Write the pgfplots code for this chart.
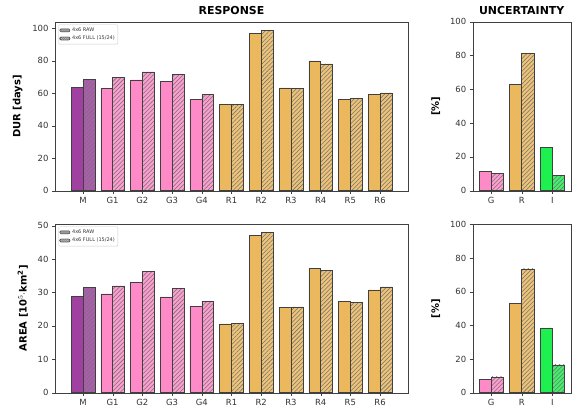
\documentclass[border=0pt]{standalone}
\usepackage{fontspec}
\setmainfont{DejaVu Sans}
\usepackage{pgfplots}
\pgfplotsset{compat=1.18}
\usetikzlibrary{patterns.meta}

\definecolor{mpurple}{RGB}{160,64,160}
\definecolor{gpink}{RGB}{255,138,200}
\definecolor{rorange}{RGB}{235,184,94}
\definecolor{igreen}{RGB}{30,240,80}

\pgfplotsset{
  raw/.style={fill=#1, draw=black!75, line width=0.5pt, bar width=0.4, bar shift=-0.2, forget plot},
  full/.style={fill=#1!85!white, draw=black!75, line width=0.5pt, bar width=0.4, bar shift=0.2, forget plot,
     postaction={pattern={Lines[angle=45,distance=3bp,line width=0.55bp]}, pattern color=black!55}},
  base/.style={
    scale only axis, ybar, ymin=0,
    axis line style={black!75}, tick style={black!75},
    tick align=outside, major tick length=3bp,
    xtick pos=bottom, ytick pos=left,
    tick label style={font=\fontsize{8.5}{10}\selectfont, text=black!80},
    /pgf/number format/assume math mode=true,
    ylabel style={font=\bfseries\fontsize{10}{12}\selectfont, yshift=3bp},
    title style={font=\bfseries\fontsize{11}{13}\selectfont, yshift=-2bp},
    xtick=data, anchor=south west,
  },
  left/.style={base, width=353bp, height=168.7bp, xmin=-0.94, xmax=10.94,
    xticklabels={M,G1,G2,G3,G4,R1,R2,R3,R4,R5,R6},
    legend style={at={(0.01,0.985)}, anchor=north west, font=\fontsize{5}{6}\selectfont,
      draw=black!20, rounded corners=1pt, inner sep=1pt, row sep=-1pt, text=black!80},
    legend cell align=left,
    legend image code/.code={\draw[#1] (0bp,-1.5bp) rectangle (10bp,1.5bp);},
  },
  right/.style={base, width=98bp, height=169bp, xmin=-0.6, xmax=2.6, ymax=100,
    xticklabels={G,R,I}, ytick={0,20,40,60,80,100}, ylabel={[\%]}},
}

\begin{document}
\begin{tikzpicture}
\useasboundingbox (0bp,0bp) rectangle (583bp,-415bp);

% ---------- DUR ----------
\begin{axis}[left, at={(55bp,-190.7bp)}, ymax=103.8, ytick={0,20,40,60,80,100},
  ylabel={DUR [days]}, title={RESPONSE}]
\addlegendimage{fill=gray!80, draw=black!75, line width=0.4pt}
\addlegendentry{4x6 RAW}
\addlegendimage{fill=gray!50, draw=black!75, line width=0.4pt, postaction={pattern={Lines[angle=45,distance=1.5bp,line width=0.3bp]}, pattern color=black!60}}
\addlegendentry{4x6 FULL (15/24)}
\addplot[raw=mpurple] coordinates {(0,63.4)};
\addplot[full=mpurple] coordinates {(0,68.3)};
\addplot[raw=gpink] coordinates {(1,63.0)(2,68.2)(3,67.4)(4,56.2)};
\addplot[full=gpink] coordinates {(1,69.5)(2,73.1)(3,71.8)(4,59.1)};
\addplot[raw=rorange] coordinates {(5,53.2)(6,96.8)(7,63.2)(8,79.9)(9,56.0)(10,59.2)};
\addplot[full=rorange] coordinates {(5,53.1)(6,98.8)(7,63.0)(8,78.0)(9,56.9)(10,60.2)};
\end{axis}

% ---------- AREA ----------
\begin{axis}[left, at={(55bp,-392.7bp)}, ymax=50.5, ytick={0,10,20,30,40,50},
  ylabel={AREA [10$^5$$\cdot$km$^\mathbf{2}$]}]
\addlegendimage{fill=gray!80, draw=black!75, line width=0.4pt}
\addlegendentry{4x6 RAW}
\addlegendimage{fill=gray!50, draw=black!75, line width=0.4pt, postaction={pattern={Lines[angle=45,distance=1.5bp,line width=0.3bp]}, pattern color=black!60}}
\addlegendentry{4x6 FULL (15/24)}
\addplot[raw=mpurple] coordinates {(0,28.9)};
\addplot[full=mpurple] coordinates {(0,31.6)};
\addplot[raw=gpink] coordinates {(1,29.6)(2,33.0)(3,28.7)(4,25.8)};
\addplot[full=gpink] coordinates {(1,32.0)(2,36.3)(3,31.3)(4,27.3)};
\addplot[raw=rorange] coordinates {(5,20.6)(6,47.1)(7,25.6)(8,37.3)(9,27.3)(10,30.8)};
\addplot[full=rorange] coordinates {(5,20.7)(6,48.1)(7,25.7)(8,36.7)(9,27.1)(10,31.7)};
\end{axis}

% ---------- UNCERTAINTY top ----------
\begin{axis}[right, at={(472.7bp,-190.7bp)}, title={UNCERTAINTY}]
\addplot[raw=gpink] coordinates {(0,11.8)};
\addplot[full=gpink] coordinates {(0,10.3)};
\addplot[raw=rorange] coordinates {(1,62.9)};
\addplot[full=rorange] coordinates {(1,81.2)};
\addplot[raw=igreen] coordinates {(2,25.6)};
\addplot[full=igreen] coordinates {(2,9.0)};
\end{axis}

% ---------- UNCERTAINTY bottom ----------
\begin{axis}[right, at={(472.7bp,-392.7bp)}, height=168.4bp]
\addplot[raw=gpink] coordinates {(0,8.0)};
\addplot[full=gpink] coordinates {(0,9.4)};
\addplot[raw=rorange] coordinates {(1,53.3)};
\addplot[full=rorange] coordinates {(1,73.5)};
\addplot[raw=igreen] coordinates {(2,38.4)};
\addplot[full=igreen] coordinates {(2,16.5)};
\end{axis}
\end{tikzpicture}
\end{document}
